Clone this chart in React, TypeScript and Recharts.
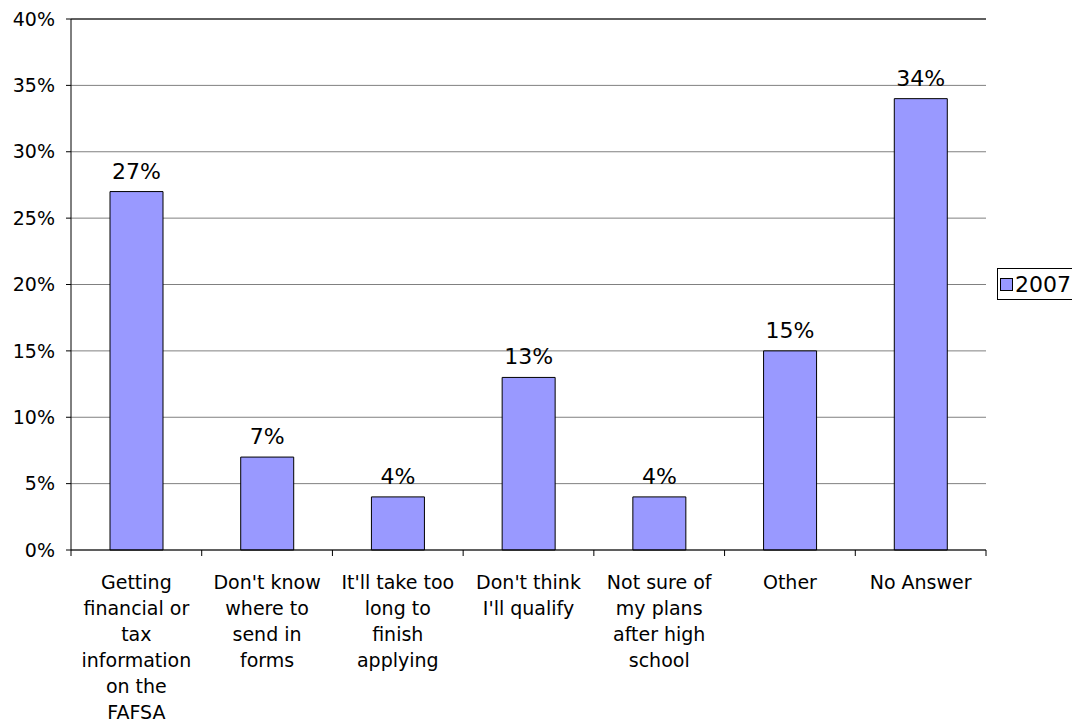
import { BarChart, Bar, XAxis, YAxis, CartesianGrid, LabelList, ReferenceLine } from "recharts";

const categories = [
  "Getting financial or tax information on the FAFSA",
  "Don't know where to send in forms",
  "It'll take too long to finish applying",
  "Don't think I'll qualify",
  "Not sure of my plans after high school",
  "Other",
  "No Answer",
];

// how each category label wraps under the axis
const categoryLines = [
  ["Getting", "financial or", "tax", "information", "on the", "FAFSA"],
  ["Don't know", "where to", "send in", "forms"],
  ["It'll take too", "long to", "finish", "applying"],
  ["Don't think", "I'll qualify"],
  ["Not sure of", "my plans", "after high", "school"],
  ["Other"],
  ["No Answer"],
];

const values2007 = [27, 7, 4, 13, 4, 15, 34];
const yTicks = [0, 5, 10, 15, 20, 25, 30, 35, 40];
const seriesName = "2007";

const data = categories.map((c, i) => ({ category: c, idx: i, v2007: values2007[i] }));

const FONT = "'DejaVu Sans', Verdana, sans-serif";
const WIDTH = 1072;
const HEIGHT = 722;
const MARGIN = { top: 19, right: 86, left: 0, bottom: 0 };
const Y_AXIS_W = 71;
const BAND = (WIDTH - MARGIN.right - Y_AXIS_W) / categories.length;

function CategoryTick(props: any) {
  const { x, y, payload, index } = props;
  const half = payload?.offset ? payload.offset : BAND / 2;
  const lines = categoryLines[index] ?? [String(payload.value)];
  const isLast = index === categories.length - 1;
  return (
    <g>
      <line x1={x - half} x2={x - half} y1={y} y2={y + 6} stroke="#000" />
      {isLast && <line x1={x + half} x2={x + half} y1={y} y2={y + 6} stroke="#000" />}
      <text x={x} y={y + 39} textAnchor="middle" fontSize={19} fontFamily={FONT} fill="#000">
        {lines.map((l, i) => (
          <tspan key={i} x={x} dy={i === 0 ? 0 : 26}>
            {l}
          </tspan>
        ))}
      </text>
    </g>
  );
}

export default function App() {
  return (
    <div style={{ position: "absolute", left: 0, top: 0, width: WIDTH, height: HEIGHT, overflow: "hidden", background: "#fff" }}>
      <BarChart width={WIDTH} height={HEIGHT} data={data} margin={MARGIN}>
        <CartesianGrid vertical={false} stroke="#808080" />
        <XAxis
          dataKey="category"
          interval={0}
          height={172}
          tickLine={false}
          tickSize={0}
          tickMargin={0}
          axisLine={{ stroke: "#000" }}
          tick={<CategoryTick />}
        />
        <YAxis
          width={Y_AXIS_W}
          domain={[0, 40]}
          ticks={yTicks}
          interval={0}
          tickFormatter={(v: number) => `${v}%`}
          tickSize={5}
          tickMargin={11}
          tickLine={{ stroke: "#000" }}
          axisLine={{ stroke: "#000" }}
          tick={{ fontSize: 19, fontFamily: FONT, fill: "#000" }}
        />
        <ReferenceLine y={40} stroke="#000" />
        <Bar dataKey="v2007" name={seriesName} fill="#9999FF" stroke="#000" strokeWidth={1} barSize={53} isAnimationActive={false}>
          <LabelList
            dataKey="v2007"
            position="top"
            offset={13}
            formatter={(v: any) => `${v}%`}
            style={{ fontSize: 22, fontFamily: FONT, fill: "#000" }}
          />
        </Bar>
      </BarChart>
      <div
        style={{
          position: "absolute",
          left: 997,
          top: 268,
          width: 90,
          height: 32,
          border: "1px solid #000",
          boxSizing: "border-box",
          display: "flex",
          alignItems: "center",
          fontFamily: FONT,
          fontSize: 22,
          color: "#000",
        }}
      >
        <span style={{ display: "inline-block", width: 11, height: 11, background: "#9999FF", border: "1px solid #000", marginLeft: 2, marginRight: 2 }} />
        <span>{seriesName}</span>
      </div>
    </div>
  );
}
